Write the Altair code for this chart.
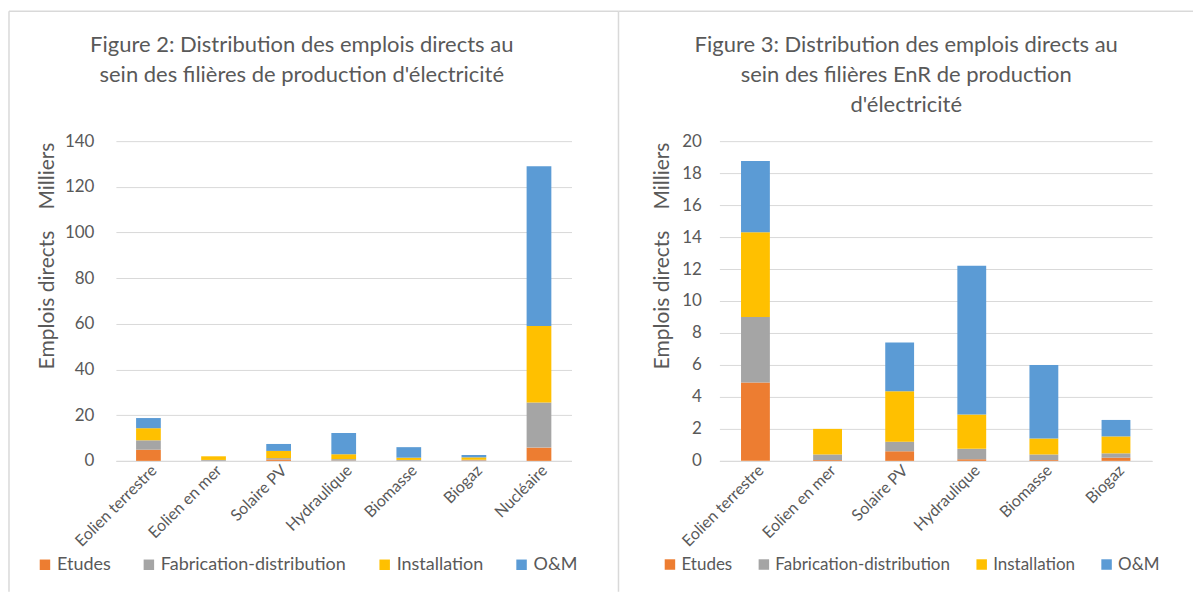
import altair as alt
import pandas as pd

# Filières et étapes de la chaîne de valeur
categories = ["Eolien terrestre", "Eolien en mer", "Solaire PV", "Hydraulique",
              "Biomasse", "Biogaz", "Nucléaire"]
stages = ["Etudes", "Fabrication-distribution", "Installation", "O&M"]

# Emplois directs (milliers) par étape
etudes = [4.9, 0.05, 0.6, 0.1, 0.05, 0.2, 5.8]
fabrication = [4.1, 0.35, 0.6, 0.65, 0.35, 0.27, 19.8]
installation = [5.3, 1.6, 3.15, 2.15, 1.0, 1.06, 33.4]
om = [4.45, 0.0, 3.05, 9.3, 4.6, 1.03, 70.0]

stage_colors = ["#ED7D31", "#A5A5A5", "#FFC000", "#5B9BD5"]

FONT = "Lato"
TXT = "#595959"
GRID = "#D9D9D9"
FRAME = "#D9D9D9"

rows = []
for i, cat in enumerate(categories):
    for k, (stage, serie) in enumerate(zip(stages, [etudes, fabrication, installation, om])):
        rows.append({"filiere": cat, "etape": stage, "ordre": k, "emplois": serie[i]})
df = pd.DataFrame(rows)
enr = [c for c in categories if c != "Nucléaire"]

one = pd.DataFrame({"k": [0]})


def hline(x1, x2, y, color=FRAME, width=1.5):
    return alt.Chart(one).mark_rule(color=color, strokeWidth=width).encode(
        x=alt.value(x1), x2=alt.value(x2), y=alt.value(y))


def vline(x, y1, y2, color=FRAME, width=1.5):
    return alt.Chart(one).mark_rule(color=color, strokeWidth=width).encode(
        x=alt.value(x), y=alt.value(y1), y2=alt.value(y2))


def label(text, x, y, size, angle=0):
    return alt.Chart(one).mark_text(font=FONT, fontSize=size, color=TXT, align="center",
                                    baseline="middle", angle=angle).encode(
        x=alt.value(x), y=alt.value(y), text=alt.value(text))


def corner(x, y):
    # invisible anchor fixing the canvas extent
    return alt.Chart(one).mark_rule(strokeWidth=0, strokeOpacity=0).encode(
        x=alt.value(x), x2=alt.value(x), y=alt.value(y))


def bars(data, cats, ymax, ystep, width, pad, label_pad, legend_x, legend_size, legend_gap):
    return alt.Chart(data).mark_bar().encode(
        x=alt.X("filiere:N", sort=cats, title=None,
                scale=alt.Scale(paddingInner=pad, paddingOuter=pad / 2),
                axis=alt.Axis(labelAngle=-45, labelAlign="right", labelBaseline="top",
                              labelFont=FONT, labelFontSize=16, labelColor=TXT,
                              labelPadding=1, ticks=False, domainColor=GRID,
                              domainWidth=1, labelLimit=300)),
        y=alt.Y("emplois:Q", title=None,
                scale=alt.Scale(domain=[0, ymax], nice=False),
                axis=alt.Axis(values=list(range(0, ymax + 1, ystep)), grid=True,
                              gridColor=GRID, domain=False, ticks=False,
                              labelFont=FONT, labelFontSize=17, labelColor=TXT,
                              labelPadding=label_pad)),
        color=alt.Color("etape:N",
                        scale=alt.Scale(domain=stages, range=stage_colors),
                        legend=alt.Legend(orient="none", legendX=legend_x, legendY=415,
                                          direction="horizontal", title=None,
                                          symbolType="square", symbolSize=110,
                                          symbolStrokeWidth=0, labelFont=FONT,
                                          labelFontSize=legend_size, labelColor=TXT,
                                          labelLimit=400, columnPadding=legend_gap,
                                          labelOffset=3)),
        order=alt.Order("ordre:Q"),
    ).properties(width=width, height=320)


# Figure 2 : toutes filières (origine du tracé à x=116, y=141)
left = alt.layer(
    bars(df, categories, 140, 20, 456, 0.62, 22, -80, 18, 29),
    hline(-107, 503, -130),
    vline(-107, -130, 451),
    vline(503, -130, 451),
    label("Figure 2: Distribution des emplois directs au", 186, -96, 22),
    label("sein des filières de production d'électricité", 186, -66, 22),
    label("Emplois directs", -68, 159, 21, angle=270),
    label("Milliers", -68, 35, 21, angle=270),
    corner(-116, -141),
)

# Figure 3 : filières EnR (origine du tracé à x=720, y=141)
right = alt.layer(
    bars(df[df.filiere != "Nucléaire"], enr, 20, 2, 433, 0.6, 18, -58, 17, 23),
    hline(-101, 474, -130),
    label("Figure 3: Distribution des emplois directs au", 187, -96, 22),
    label("sein des filières EnR de production", 187, -66, 22),
    label("d'électricité", 187, -36, 22),
    label("Emplois directs", -56, 159, 21, angle=270),
    label("Milliers", -56, 35, 21, angle=270),
    corner(474, 451),
)

chart = alt.hconcat(left, right, spacing=148, bounds="flush").resolve_scale(
    x="independent", y="independent", color="independent"
).resolve_legend(color="independent").properties(
    padding=0, background="white"
).configure_view(stroke=None)

chart.save("out.html", embed_options={"renderer": "svg", "actions": False})
